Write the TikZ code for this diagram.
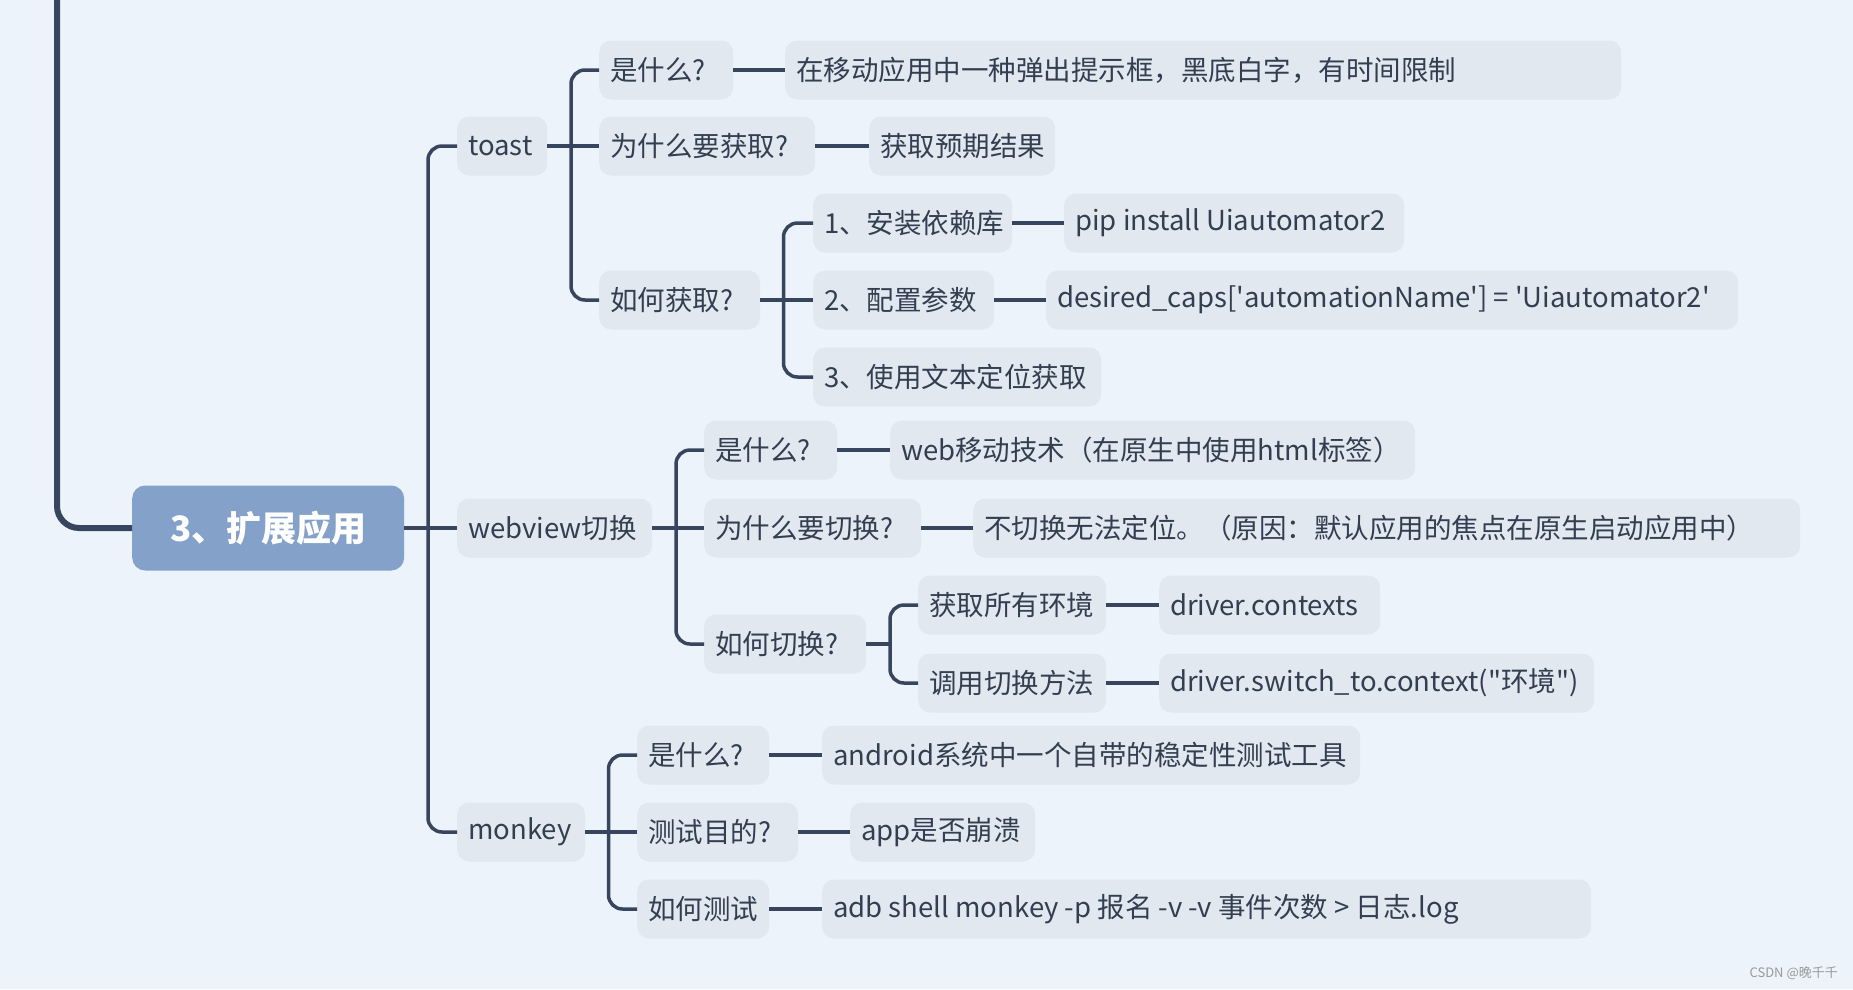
\documentclass[tikz,border=0pt]{standalone}
\usepackage{fontspec}
\setmainfont{Noto Sans CJK SC}
\newfontfamily\plainf{Noto Sans CJK SC}
\definecolor{bg}{HTML}{ECF3FA}
\definecolor{nfill}{HTML}{E1E8F0}
\definecolor{rootfill}{HTML}{84A2C9}
\definecolor{ln}{HTML}{37465E}
\definecolor{txt}{HTML}{333E50}
\newcommand\lb[2]{\makebox[#1pt][l]{#2}}
\begin{document}
\begin{tikzpicture}[x=1pt,y=-1pt,
  box/.style={fill=nfill, rounded corners=12pt, minimum height=59pt, inner xsep=11pt, inner ysep=0pt, anchor=west, text=txt, font=\plainf\fontsize{27.5}{32}\selectfont},
  conn/.style={draw=ln, line width=3.5pt},
  bus/.style={draw=ln, line width=3.5pt, rounded corners=14pt}]
\fill[bg] (0,0) rectangle (1853,989);
\useasboundingbox (0,0) rectangle (1853,989);
% root
\node[fill=rootfill, rounded corners=13pt, minimum width=272pt, minimum height=85pt, anchor=west, text=white, font=\plainf\fontsize{35}{40}\selectfont\bfseries] (root) at (132,528) {3、扩展应用};
\coordinate (topl) at (57,-5);
\draw[draw=ln, line width=6pt, rounded corners=22pt] (topl) |- (root.west);
% level 1
\node[box] (toast) at (457,146) {\lb{68}{toast}};
\node[box] (web) at (457,528) {\lb{173}{webview切换}};
\node[box] (monkey) at (457,832) {\lb{106}{monkey}};
\coordinate (mb) at (428,528);
\draw[conn] (root.east) -- (web.west);
\draw[bus] (mb) |- (toast.west);
\draw[bus] (mb) |- (monkey.west);
% toast children
\node[box] (t1) at (599,70) {\lb{112}{是什么?}};
\node[box] (t2) at (599,146) {\lb{194}{为什么要获取?}};
\node[box] (t3) at (599,300) {\lb{139}{如何获取?}};
\coordinate (tb) at (571,146);
\draw[conn] (toast.east) -- (t2.west);
\draw[bus] (tb) |- (t1.west);
\draw[bus] (tb) |- (t3.west);
\node[box] (t1a) at (785,70) {\lb{814}{在移动应用中一种弹出提示框，黑底白字，有时间限制}};
\draw[conn] (t1.east) -- (t1a.west);
\node[box] (t2a) at (869,146) {\lb{164}{获取预期结果}};
\draw[conn] (t2.east) -- (t2a.west);
\node[box] (h1) at (813,223) {\lb{177}{1、安装依赖库}};
\node[box] (h2) at (813,300) {\lb{159}{2、配置参数}};
\node[box] (h3) at (813,377) {\lb{266}{3、使用文本定位获取}};
\coordinate (hb) at (783.5,300);
\draw[conn] (t3.east) -- (h2.west);
\draw[bus] (hb) |- (h1.west);
\draw[bus] (hb) |- (h3.west);
\node[box] (h1a) at (1064,223) {\lb{318}{pip install Uiautomator2}};
\draw[conn] (h1.east) -- (h1a.west);
\node[box] (h2a) at (1046,300) {\lb{670}{desired\_caps['automationName'] = 'Uiautomator2'}};
\draw[conn] (h2.east) -- (h2a.west);
% webview children
\node[box] (w1) at (704,450) {\lb{111}{是什么?}};
\node[box] (w2) at (704,528) {\lb{195}{为什么要切换?}};
\node[box] (w3) at (704,644) {\lb{140}{如何切换?}};
\coordinate (wb) at (676,528);
\draw[conn] (web.east) -- (w2.west);
\draw[bus] (wb) |- (w1.west);
\draw[bus] (wb) |- (w3.west);
\node[box] (w1a) at (890,450) {\lb{503}{web移动技术（在原生中使用html标签）}};
\draw[conn] (w1.east) -- (w1a.west);
\node[box] (w2a) at (973,528) {\lb{805}{不切换无法定位。（原因：默认应用的焦点在原生启动应用中）}};
\draw[conn] (w2.east) -- (w2a.west);
\node[box] (q1) at (918,605) {\lb{166}{获取所有环境}};
\node[box] (q2) at (918,683) {\lb{166}{调用切换方法}};
\coordinate (qb) at (890,644);
\draw[conn] (w3.east) -- (qb);
\draw[bus] (qb) |- (q1.west);
\draw[bus] (qb) |- (q2.west);
\node[box] (q1a) at (1159,605) {\lb{199}{driver.contexts}};
\draw[conn] (q1.east) -- (q1a.west);
\node[box] (q2a) at (1159,683) {\lb{413}{driver.switch\_to.context("环境")}};
\draw[conn] (q2.east) -- (q2a.west);
% monkey children
\node[box] (m1) at (637,755) {\lb{110}{是什么?}};
\node[box] (m2) at (637,832) {\lb{139}{测试目的?}};
\node[box] (m3) at (637,909) {\lb{110}{如何测试}};
\coordinate (mkb) at (608.5,832);
\draw[conn] (monkey.east) -- (m2.west);
\draw[bus] (mkb) |- (m1.west);
\draw[bus] (mkb) |- (m3.west);
\node[box] (m1a) at (822,755) {\lb{516}{android系统中一个自带的稳定性测试工具}};
\draw[conn] (m1.east) -- (m1a.west);
\node[box] (m2a) at (850,832) {\lb{163}{app是否崩溃}};
\draw[conn] (m2.east) -- (m2a.west);
\node[box] (m3a) at (822,909) {\lb{747}{adb shell monkey -p 报名 -v -v 事件次数 > 日志.log}};
\draw[conn] (m3.east) -- (m3a.west);
% watermark
\node[anchor=east, text=gray!80, font=\plainf\fontsize{13}{15}\selectfont, inner sep=0pt] (wm) at (1838,973) {CSDN @晚千千};
\end{tikzpicture}
\end{document}
